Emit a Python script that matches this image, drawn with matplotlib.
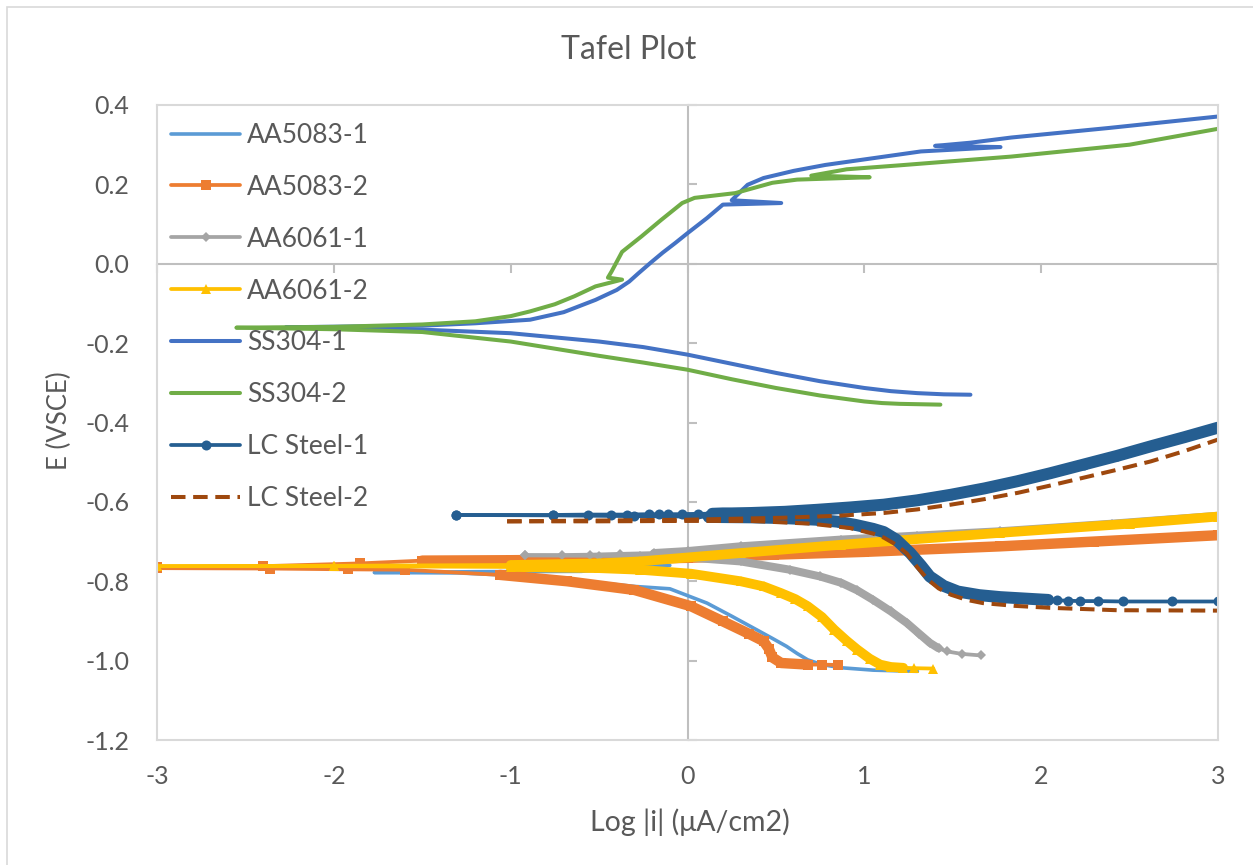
import numpy as np
import matplotlib.pyplot as plt
from matplotlib.patches import Rectangle

plt.rcParams['font.family'] = ['Lato', 'DejaVu Sans']

# ---- data: log|i| (x) and E in V vs SCE ----
# each sample has a cathodic branch and an anodic branch, both start at Ecorr
aa5083_1_cat_x = [-1.77, -1.3, -0.9, -0.6, -0.3, -0.1, 0.11, 0.25, 0.39, 0.48, 0.56, 0.62, 0.68, 0.76, 0.87, 1.05, 1.30]
aa5083_1_cat_e = [-0.778, -0.779, -0.787, -0.800, -0.813, -0.819, -0.855, -0.888, -0.922, -0.944, -0.964, -0.982,
                  -0.998, -1.010, -1.018, -1.024, -1.027]
aa5083_1_ano_x = [-1.77, -1.2, -0.6, -0.27, -0.1]
aa5083_1_ano_e = [-0.778, -0.776, -0.775, -0.762, -0.760]

aa5083_2_cat_x = [-3.0, -2.36, -1.92, -1.6, -1.06, -0.68, -0.3, 0.02, 0.2, 0.35, 0.43, 0.46, 0.48, 0.53,
                  0.68, 0.76, 0.85]
aa5083_2_cat_e = [-0.767, -0.768, -0.770, -0.771, -0.784, -0.800, -0.822, -0.863, -0.901, -0.933, -0.951, -0.970,
                  -0.992, -1.006, -1.010, -1.010, -1.011]
aa5083_2_ano_x = [-3.0, -2.4, -1.85, -1.5, -1.0, -0.5, 0.0, 0.49, 1.0, 1.77, 2.3, 3.0]
aa5083_2_ano_e = [-0.765, -0.762, -0.755, -0.748, -0.747, -0.745, -0.741, -0.733, -0.726, -0.712, -0.700, -0.684]

aa6061_1_cat_x = [-0.92, -0.5, -0.27, 0.0, 0.3, 0.58, 0.75, 0.87, 0.96, 1.05, 1.15, 1.24, 1.31, 1.37, 1.42,
                  1.47, 1.55, 1.66]
aa6061_1_cat_e = [-0.735, -0.736, -0.737, -0.740, -0.750, -0.771, -0.788, -0.804, -0.823, -0.847, -0.876, -0.905,
                  -0.932, -0.955, -0.969, -0.977, -0.983, -0.987]
aa6061_1_ano_x = [-0.92, -0.71, -0.55, -0.38, -0.19, 0.0, 0.3, 0.87, 1.3, 1.77, 2.4, 3.0]
aa6061_1_ano_e = [-0.734, -0.734, -0.733, -0.731, -0.729, -0.724, -0.712, -0.695, -0.685, -0.674, -0.655, -0.635]

aa6061_2_cat_x = [-3.0, -2.0, -1.0, -0.5, -0.27, 0.02, 0.3, 0.43, 0.53, 0.61, 0.68, 0.76, 0.83, 0.90, 0.96,
                  1.03, 1.09, 1.15, 1.22, 1.28, 1.39]
aa6061_2_cat_e = [-0.762, -0.762, -0.764, -0.767, -0.771, -0.781, -0.800, -0.813, -0.830, -0.845, -0.863, -0.890,
                  -0.922, -0.950, -0.972, -0.995, -1.010, -1.016, -1.018, -1.019, -1.020]
aa6061_2_ano_x = [-3.0, -2.0, -1.0, -0.5, -0.27, 0.3, 0.87, 1.77, 2.5, 3.0]
aa6061_2_ano_e = [-0.762, -0.761, -0.759, -0.755, -0.750, -0.729, -0.708, -0.678, -0.655, -0.637]

ss304_1_cat_x = [-2.27, -2.0, -1.5, -1.0, -0.5, -0.25, 0.0, 0.25, 0.5, 0.75, 1.0, 1.15, 1.3, 1.45, 1.6]
ss304_1_cat_e = [-0.160, -0.161, -0.166, -0.175, -0.196, -0.210, -0.229, -0.252, -0.275, -0.296, -0.313, -0.321,
                 -0.326, -0.329, -0.330]
ss304_1_ano_x = [-2.27, -1.5, -1.2, -0.89, -0.7, -0.52, -0.40, -0.33, -0.28, -0.21, -0.14, -0.07, 0.0, 0.11, 0.20,
                 0.53, 0.25, 0.34, 0.43, 0.6, 0.78, 1.05, 1.32, 1.77, 1.40, 1.60, 1.83, 2.38, 3.0]
ss304_1_ano_e = [-0.160, -0.156, -0.150, -0.141, -0.122, -0.091, -0.066, -0.045, -0.025, 0.002, 0.028, 0.052,
                 0.077, 0.115, 0.149, 0.153, 0.160, 0.199, 0.216, 0.234, 0.249, 0.266, 0.283, 0.294, 0.297,
                 0.305, 0.318, 0.342, 0.371]

ss304_2_cat_x = [-2.55, -2.0, -1.5, -1.0, -0.5, -0.25, 0.0, 0.25, 0.5, 0.75, 1.0, 1.1, 1.2, 1.43]
ss304_2_cat_e = [-0.161, -0.165, -0.172, -0.196, -0.232, -0.249, -0.267, -0.291, -0.313, -0.332, -0.347, -0.351,
                 -0.353, -0.355]
ss304_2_ano_x = [-2.55, -2.0, -1.5, -1.2, -1.0, -0.89, -0.75, -0.64, -0.52, -0.37, -0.45, -0.43, -0.37, -0.26,
                 -0.15, -0.03, 0.04, 0.27, 0.48, 0.62, 1.03, 0.70, 0.90, 1.20, 1.83, 2.5, 3.0]
ss304_2_ano_e = [-0.161, -0.159, -0.153, -0.145, -0.132, -0.120, -0.102, -0.082, -0.057, -0.040, -0.035, -0.020,
                 0.030, 0.069, 0.110, 0.153, 0.166, 0.178, 0.204, 0.212, 0.218, 0.222, 0.238, 0.248, 0.270,
                 0.300, 0.340]

lc1_cat_x = [-1.31, -0.76, -0.3, 0.0, 0.12, 0.36, 0.55, 0.73, 0.85, 0.95, 1.05, 1.11, 1.18, 1.26, 1.32, 1.37,
             1.45, 1.53, 1.65, 1.77, 2.0, 2.04, 2.09, 2.15, 2.22, 2.32, 2.46, 2.74, 3.0]
lc1_cat_e = [-0.633, -0.634, -0.636, -0.637, -0.638, -0.639, -0.641, -0.645, -0.650, -0.658, -0.668, -0.676,
             -0.695, -0.729, -0.760, -0.788, -0.812, -0.826, -0.835, -0.840, -0.846, -0.847, -0.848, -0.849,
             -0.850, -0.850, -0.851, -0.851, -0.851]
lc1_ano_x = [-1.31, -0.76, -0.56, -0.43, -0.34, -0.22, -0.16, -0.11, -0.03, 0.06, 0.14, 0.20, 0.25,
             0.36, 0.55, 0.73, 0.92, 1.11, 1.30, 1.49, 1.68, 1.865, 2.05, 2.24, 2.43, 2.62, 2.81, 3.0]
lc1_ano_e = [-0.633, -0.633, -0.632, -0.632, -0.632, -0.631, -0.631, -0.631, -0.631, -0.630, -0.630, -0.629, -0.629,
             -0.628, -0.625, -0.620, -0.614, -0.607, -0.596, -0.582, -0.566, -0.548, -0.528, -0.506, -0.484,
             -0.460, -0.437, -0.413]

lc2_cat_x = [-1.02, -0.5, 0.0, 0.36, 0.7, 0.92, 1.05, 1.11, 1.18, 1.24, 1.30, 1.36, 1.42, 1.49, 1.58, 1.67,
             1.85, 2.05, 2.43, 3.0]
lc2_cat_e = [-0.649, -0.649, -0.648, -0.648, -0.655, -0.666, -0.680, -0.690, -0.708, -0.730, -0.765, -0.796,
             -0.818, -0.834, -0.847, -0.855, -0.862, -0.867, -0.873, -0.874]
lc2_ano_x = [-1.02, -0.5, 0.0, 0.54, 0.85, 1.11, 1.30, 1.49, 1.68, 1.87, 2.05, 2.24, 2.43, 2.62, 2.81, 3.0]
lc2_ano_e = [-0.649, -0.647, -0.645, -0.640, -0.635, -0.628, -0.619, -0.607, -0.593, -0.577, -0.559, -0.539,
             -0.519, -0.498, -0.472, -0.443]

x_ticks = [-3, -2, -1, 0, 1, 2, 3]
y_ticks = [-1.2, -1.0, -0.8, -0.6, -0.4, -0.2, 0.0, 0.2, 0.4]

# plotting styles; "band" mimics the dense marker trail (width, cathodic x-range, anodic x-range)
series = [
    dict(label='AA5083-1', color='#5B9BD5', marker=None, ms=0, lw=2.6,
         cat=(aa5083_1_cat_x, aa5083_1_cat_e), ano=(aa5083_1_ano_x, aa5083_1_ano_e), band=None),
    dict(label='AA5083-2', color='#ED7D31', marker='s', ms=6.5, lw=2.7,
         cat=(aa5083_2_cat_x, aa5083_2_cat_e), ano=(aa5083_2_ano_x, aa5083_2_ano_e),
         band=(7.5, (-1.2, 0.7), (-1.6, 3.0))),
    dict(label='AA6061-1', color='#A5A5A5', marker='D', ms=5.0, lw=2.7,
         cat=(aa6061_1_cat_x, aa6061_1_cat_e), ano=(aa6061_1_ano_x, aa6061_1_ano_e),
         band=(5.8, (-0.3, 1.45), (-0.2, 3.0))),
    dict(label='AA6061-2', color='#FFC000', marker='^', ms=7.0, lw=2.7,
         cat=(aa6061_2_cat_x, aa6061_2_cat_e), ano=(aa6061_2_ano_x, aa6061_2_ano_e),
         band=(7.0, (-1.5, 1.22), (-1.5, 3.0))),
    dict(label='SS304-1', color='#4472C4', marker=None, ms=0, lw=2.9,
         cat=(ss304_1_cat_x, ss304_1_cat_e), ano=(ss304_1_ano_x, ss304_1_ano_e), band=None),
    dict(label='SS304-2', color='#70AD47', marker=None, ms=0, lw=2.9,
         cat=(ss304_2_cat_x, ss304_2_cat_e), ano=(ss304_2_ano_x, ss304_2_ano_e), band=None),
    dict(label='LC Steel-1', color='#255E91', marker='o', ms=7.2, lw=2.7,
         cat=(lc1_cat_x, lc1_cat_e), ano=(lc1_ano_x, lc1_ano_e),
         band=(8.6, (0.1, 2.05), (0.1, 3.0))),
    dict(label='LC Steel-2', color='#9E480E', marker=None, ms=0, lw=2.9, ls=(0, (3.6, 1.9)),
         cat=(lc2_cat_x, lc2_cat_e), ano=(lc2_ano_x, lc2_ano_e), band=None),
]

TXT = '#595959'
fig = plt.figure(figsize=(12.53, 8.65), dpi=100)
rect = [157 / 1253, 1 - 740 / 865, (1218 - 157) / 1253, (740 - 105) / 865]

# bottom layer: axis lines crossing at zero with their tick marks
ax0 = fig.add_axes(rect, zorder=0)
ax0.set_xlim(-3, 3)
ax0.set_ylim(-1.2, 0.4)
for side in ['top', 'right']:
    ax0.spines[side].set_visible(False)
ax0.spines['left'].set_position(('data', 0))
ax0.spines['bottom'].set_position(('data', 0))
for side in ['left', 'bottom']:
    ax0.spines[side].set_color('#BFBFBF')
    ax0.spines[side].set_linewidth(1.5)
ax0.set_xticks(x_ticks)
ax0.set_yticks(y_ticks)
ax0.tick_params(axis='x', direction='out', length=6.7, width=1.5, color='#BFBFBF', labelbottom=False)
ax0.tick_params(axis='y', direction='in', length=6.7, width=1.5, color='#BFBFBF', labelleft=False)
ax0.patch.set_facecolor('white')

# top layer: data, frame, tick labels, legend
ax = fig.add_axes(rect, zorder=1)
ax.patch.set_alpha(0)
ax.set_xlim(-3, 3)
ax.set_ylim(-1.2, 0.4)
for s in ax.spines.values():
    s.set_color('#D9D9D9')
    s.set_linewidth(1.5)
ax.set_xticks(x_ticks)
ax.set_xticklabels([str(v) for v in x_ticks])
ax.set_yticks(y_ticks)
ax.set_yticklabels([f'{v:.1f}' for v in y_ticks])
ax.tick_params(axis='x', length=0, labelsize=18, labelcolor=TXT, pad=18)
ax.tick_params(axis='y', length=0, labelsize=18, labelcolor=TXT, pad=20)


def band_part(x, e, lo, hi):
    x = np.asarray(x, float)
    e = np.asarray(e, float)
    keep = (x >= lo) & (x <= hi)
    return np.where(keep, x, np.nan), np.where(keep, e, np.nan)


handles = []
for s in series:
    ls = s.get('ls', '-')
    for key in ['cat', 'ano']:
        x, e = s[key]
        line, = ax.plot(x, e, color=s['color'], lw=s['lw'], ls=ls,
                        marker=s['marker'], ms=s['ms'], mew=0,
                        solid_capstyle='round', solid_joinstyle='round', label=s['label'])
        if s['band'] is not None:
            width, cat_rng, ano_rng = s['band']
            lo, hi = cat_rng if key == 'cat' else ano_rng
            bx, be = band_part(x, e, lo, hi)
            ax.plot(bx, be, color=s['color'], lw=width, solid_capstyle='round',
                    solid_joinstyle='round')
    handles.append(line)

leg = ax.legend(handles=handles, loc='upper left', bbox_to_anchor=(0.0135, 0.972),
                frameon=False, fontsize=19, labelcolor=TXT, handlelength=2.6,
                handletextpad=0.28, labelspacing=1.02, borderpad=0, borderaxespad=0)

fig.text(0.502, 1 - 50 / 865, 'Tafel Plot', ha='center', va='center', fontsize=23, color=TXT)
fig.text(59 / 1253, 1 - 421 / 865, 'E (VSCE)', rotation=90, ha='center', va='center',
         fontsize=18.5, color=TXT)
fig.text(690 / 1253, 1 - 822 / 865, 'Log |i| (μA/cm2)', ha='center', va='center',
         fontsize=20.5, color=TXT)

# chart area border (only left and top edges are inside the crop)
fig.patches.append(Rectangle((7 / 1253, -0.5), 2, 1.5 - 7 / 865, fill=False,
                             edgecolor='#D9D9D9', lw=1.2, transform=fig.transFigure))

fig.savefig('out.png', dpi=100)
